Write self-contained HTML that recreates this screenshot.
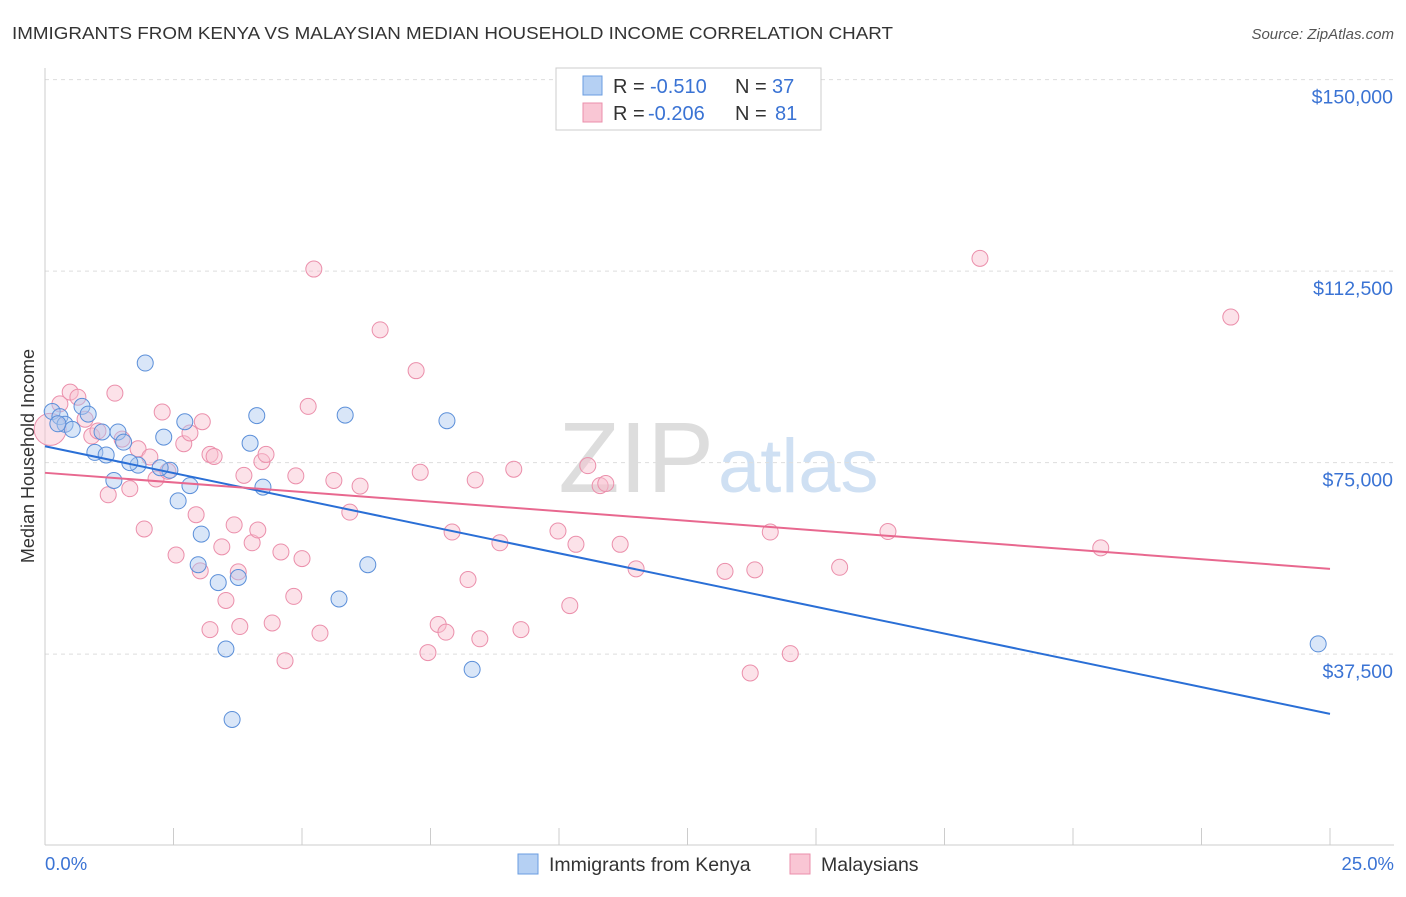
<!DOCTYPE html>
<html><head><meta charset="utf-8"><style>
body{margin:0;background:#fff;font-family:"Liberation Sans",sans-serif;}
svg text{font-family:"Liberation Sans",sans-serif;}
</style></head><body>
<svg id="c" width="1406" height="892" xmlns="http://www.w3.org/2000/svg">
<text x="12" y="39" font-size="17.5" fill="#333" textLength="881" lengthAdjust="spacingAndGlyphs">IMMIGRANTS FROM KENYA VS MALAYSIAN MEDIAN HOUSEHOLD INCOME CORRELATION CHART</text>
<text x="1394" y="39" font-size="15" fill="#555" font-style="italic" text-anchor="end">Source: ZipAtlas.com</text>
<text x="714" y="492" font-size="100" fill="#ddd" text-anchor="end" font-family="Liberation Serif">ZIP</text>
<text x="718" y="492" font-size="76" fill="#cfe0f3">atlas</text>
<g id="grid"></g><g id="axes"></g><g id="pts"></g><g id="lines"></g>
<text transform="translate(34,456) rotate(-90)" font-size="18" fill="#333" text-anchor="middle">Median Household Income</text>
<g>
<rect x="556" y="68" width="265" height="62" fill="#fff" stroke="#ccc"/>
<rect x="583" y="76" width="19" height="19" fill="#b5d0f3" stroke="#6a9de0"/>
<text x="613" y="93" font-size="20" fill="#333">R =</text>
<text x="650" y="93" font-size="20" fill="#3a73d4">-0.510</text>
<text x="735" y="93" font-size="20" fill="#333">N =</text>
<text x="772" y="93" font-size="20" fill="#3a73d4">37</text>
<rect x="583" y="103" width="19" height="19" fill="#f9c6d4" stroke="#eb8fab"/>
<text x="613" y="120" font-size="20" fill="#333">R =</text>
<text x="648" y="120" font-size="20" fill="#3a73d4">-0.206</text>
<text x="735" y="120" font-size="20" fill="#333">N =</text>
<text x="775" y="120" font-size="20" fill="#3a73d4">81</text>
</g>
<g>
<rect x="518" y="854" width="20" height="20" fill="#b5d0f3" stroke="#6a9de0"/>
<text x="549" y="871" font-size="19.5" fill="#333">Immigrants from Kenya</text>
<rect x="790" y="854" width="20" height="20" fill="#f9c6d4" stroke="#eb8fab"/>
<text x="821" y="871" font-size="19.5" fill="#333">Malaysians</text>
</g>
</svg>
<script>
const yTicks=[37500,75000,112500,150000];
const yTickLabels=["$37,500","$75,000","$112,500","$150,000"];
const xTickLabels=["0.0%","25.0%"];
const kenyaX=[0.14,0.29,0.39,0.53,0.72,0.84,0.97,1.11,1.19,1.42,1.53,1.34,1.81,2.31,2.43,2.59,2.72,2.82,2.98,3.04,3.37,3.52,3.64,3.76,4.12,3.99,4.24,1.95,5.84,6.28,5.72,7.82,8.31,24.77,1.65,2.24,0.25];
const kenyaY=[85000,84000,82500,81500,86000,84500,77000,81000,76500,81000,79000,71500,74500,80000,73500,67500,83000,70500,55000,61000,51500,38500,24700,52500,84200,78800,70200,94500,84300,55000,48300,83200,34500,39500,75000,74000,82600];
const malayX=[0.1,0.29,0.49,0.64,0.78,0.91,1.03,1.23,1.36,1.5,1.65,1.81,1.93,2.04,2.16,2.28,2.39,2.55,2.7,2.82,2.94,3.06,3.21,3.29,3.44,3.52,3.68,3.76,3.87,4.03,4.14,4.22,4.3,4.42,4.59,4.67,4.84,4.88,5,5.12,5.23,5.35,5.62,5.93,6.13,6.52,7.22,7.3,7.45,7.65,7.8,7.92,8.23,8.37,8.46,8.85,9.12,9.26,9.98,10.21,10.33,10.56,10.8,10.91,11.19,11.5,13.23,13.72,13.81,14.11,14.5,15.46,16.4,18.19,20.54,23.07,3.21,3.79,3.02];
const malayY=[81500,86500,88800,87800,83500,80200,81200,68700,88600,79600,69900,77700,62000,76100,71800,84900,73300,56900,78700,80800,64800,83000,76600,76200,58500,48000,62800,53600,72500,59300,61800,75200,76600,43600,57500,36200,48800,72400,56200,86000,112900,41600,71500,65300,70400,101000,93000,73100,37800,43300,41800,61400,52100,71600,40500,59300,73700,42300,61600,47000,59000,74400,70500,70900,59000,54200,53700,33800,54000,61400,37600,54500,61500,115000,58300,103500,42300,42900,53800];
const kenyaLine=[78200,25800];
const malayLine=[73000,54200];
const X=v=>45+v/25*1285, Y=v=>845.6-v/37500*191.5;
const NS="http://www.w3.org/2000/svg";
function mk(t,a,p){const e=document.createElementNS(NS,t);for(const k in a)e.setAttribute(k,a[k]);p.appendChild(e);return e;}
const grid=document.getElementById('grid'),axes=document.getElementById('axes'),pts=document.getElementById('pts'),lines=document.getElementById('lines');
yTicks.forEach((t,i)=>{
 const l=mk('line',{x1:45,x2:1394,y1:Y(t),y2:Y(t),stroke:'#ddd','stroke-dasharray':'4,4'},grid);
 
 
 const tx=mk('text',{x:1393,y:Y(t)+24,'font-size':19.5,fill:'#3a73d4','text-anchor':'end'},axes);
 tx.textContent=yTickLabels[i];
 
 
});
const ax=mk('line',{x1:45,x2:45,y1:68,y2:845,stroke:'#ccc'},axes);


const bx=mk('line',{x1:45,x2:1394,y1:845,y2:845,stroke:'#ccc'},axes);


for(let i=0;i<=10;i++){
 const t=mk('line',{x1:X(i*2.5),x2:X(i*2.5),y1:828,y2:845,stroke:'#ccc'},axes);
 
 
}
[[0,'start',45],[25,'end',1394]].forEach((d,i)=>{
 const t=mk('text',{x:d[2],y:870,'font-size':18.5,fill:'#3a73d4','text-anchor':d[1]},axes);
 t.textContent=xTickLabels[i];
 
 
});
malayX.forEach((x,i)=>{
 const c=mk('circle',{cx:X(x),cy:Y(malayY[i]),r:i==0?16:8,fill:'rgba(249,190,207,0.45)',stroke:'#eb8fab','stroke-width':1},pts);
 
 
});
kenyaX.forEach((x,i)=>{
 const c=mk('circle',{cx:X(x),cy:Y(kenyaY[i]),r:8,fill:'rgba(170,200,240,0.45)',stroke:'#5b8fd9','stroke-width':1},pts);
 
 
});
const l1=mk('line',{x1:X(0),x2:X(25),y1:Y(kenyaLine[0]),y2:Y(kenyaLine[1]),stroke:'#2a6fd6','stroke-width':2},lines);


const l2=mk('line',{x1:X(0),x2:X(25),y1:Y(malayLine[0]),y2:Y(malayLine[1]),stroke:'#e8688f','stroke-width':2},lines);


</script>
</body></html>
